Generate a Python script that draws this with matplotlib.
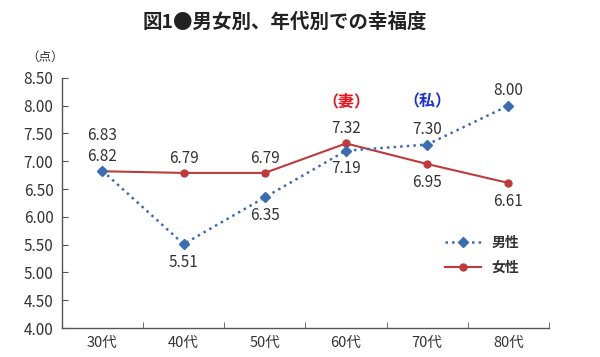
import matplotlib
matplotlib.use('Agg')
import matplotlib.pyplot as plt
import numpy as np

plt.rcParams['font.family'] = ['Noto Sans CJK JP', 'DejaVu Sans']

# Data
ages = ['30代', '40代', '50代', '60代', '70代', '80代']
male = [6.83, 5.51, 6.35, 7.19, 7.30, 8.00]
female = [6.82, 6.79, 6.79, 7.32, 6.95, 6.61]
# label placement: True = above point
male_above = [True, False, False, False, True, True]
female_above = [True, True, True, True, False, False]
yticks = np.arange(4.0, 8.51, 0.5)

blue = '#3b6db3'
red = '#c03a3c'
txt = '#333333'

fig = plt.figure(figsize=(6, 3.57), dpi=100)
ax = fig.add_axes([0.103, 0.081, 0.812, 0.701])
x = np.arange(len(ages))

ax.plot(x, male, color=blue, linestyle=':', linewidth=1.8, marker='D', markersize=5, label='男性', zorder=3)
ax.plot(x, female, color=red, linestyle='-', linewidth=1.5, marker='o', markersize=5, label='女性', zorder=2)

for i in x:
    # 30代 has both labels above
    if i == 0:
        ax.annotate(f'{male[i]:.2f}', (i, male[i]), xytext=(0, 19), textcoords='offset points',
                    ha='center', va='bottom', fontsize=11, color=txt)
        ax.annotate(f'{female[i]:.2f}', (i, female[i]), xytext=(0, 4.5), textcoords='offset points',
                    ha='center', va='bottom', fontsize=11, color=txt)
        continue
    for vals, above in ((male, male_above), (female, female_above)):
        if above[i]:
            ax.annotate(f'{vals[i]:.2f}', (i, vals[i]), xytext=(0, 4.5), textcoords='offset points',
                        ha='center', va='bottom', fontsize=11, color=txt)
        else:
            ax.annotate(f'{vals[i]:.2f}', (i, vals[i]), xytext=(0, -7), textcoords='offset points',
                        ha='center', va='top', fontsize=11, color=txt)

ax.text(3, 8.07, '（妻）', color='#e8141b', fontsize=11.5, fontweight='bold', ha='center', va='center')
ax.text(4, 8.07, '（私）', color='#1a2fd6', fontsize=11.5, fontweight='bold', ha='center', va='center')

ax.set_xlim(-0.5, 5.5)
ax.set_ylim(4.0, 8.5)
ax.set_yticks(yticks)
ax.set_yticklabels([f'{v:.2f}' for v in yticks], fontsize=11, color=txt)
ax.set_xticks(x)
ax.set_xticklabels(ages, fontsize=10.5, color=txt)
ax.set_xticks(np.arange(-0.5, 6, 1), minor=True)
ax.tick_params(axis='x', which='major', length=0, pad=6)
ax.tick_params(axis='x', which='minor', direction='in', length=4, color='#555555')
ax.tick_params(axis='y', direction='in', length=4, color='#555555', pad=6)
for s in ['top', 'right']:
    ax.spines[s].set_visible(False)
for s in ['left', 'bottom']:
    ax.spines[s].set_color('#555555')
    ax.spines[s].set_linewidth(1.0)

fig.text(0.075, 0.84, '（点）', fontsize=9, color=txt, ha='center', va='center')
fig.text(0.475, 0.938, '図1●男女別、年代別での幸福度', fontsize=14, fontweight='bold', color='#222222',
         ha='center', va='center')

leg = ax.legend(loc='upper left', bbox_to_anchor=(0.76, 0.42), frameon=False, fontsize=10,
                handlelength=2.6, labelspacing=0.8)
for t in leg.get_texts():
    t.set_color(txt)
    t.set_fontweight('bold')

fig.savefig('out.png', dpi=100, facecolor='white')
